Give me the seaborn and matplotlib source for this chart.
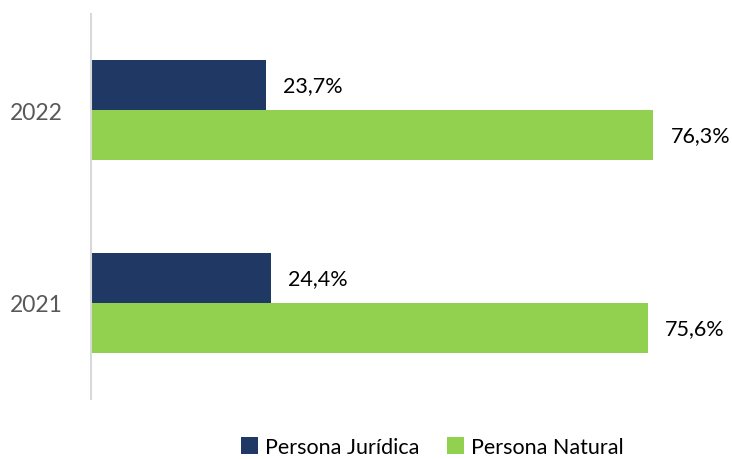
import matplotlib
matplotlib.use("Agg")
import matplotlib.pyplot as plt
import seaborn as sns
import pandas as pd

years = ["2022", "2021"]
juridica = [23.7, 24.4]
natural = [76.3, 75.6]
series_names = ["Persona Jurídica", "Persona Natural"]
colors = ["#203864", "#92D050"]

df = pd.DataFrame({
    "year": years * 2,
    "value": juridica + natural,
    "tipo": [series_names[0]] * len(years) + [series_names[1]] * len(years),
})

sns.set_theme(style="white")
plt.rcParams["font.family"] = ["Lato", "DejaVu Sans"]

fig = plt.figure(figsize=(7.32, 4.60), dpi=100)
ax = fig.add_axes([91 / 732, 1 - 400 / 460, 641 / 732, 385 / 460])

sns.barplot(data=df, y="year", x="value", hue="tipo", order=years,
            hue_order=series_names, palette=colors, orient="h",
            width=0.52, saturation=1, linewidth=0, ax=ax)

for cont in ax.containers:
    labels = [f"{b.get_width():.1f}%".replace(".", ",") for b in cont]
    ax.bar_label(cont, labels=labels, padding=12.5, fontsize=15.5, color="#000000")

ax.set_xlim(0, 87)
ax.set_ylim(1.5, -0.5)
ax.set_xlabel("")
ax.set_ylabel("")
ax.set_xticks([])
ax.tick_params(axis="y", length=0, labelsize=16.5, labelcolor="#595959", pad=20)
for s in ["top", "right", "bottom"]:
    ax.spines[s].set_visible(False)
ax.spines["left"].set_color("#D9D9D9")
ax.spines["left"].set_linewidth(1.5)

sns.move_legend(ax, "center", bbox_to_anchor=(0.532, -0.125), ncol=2,
                frameon=False, title=None, fontsize=15.5,
                handlelength=0.8, handleheight=0.8, handletextpad=0.3,
                columnspacing=1.3)
for t in ax.get_legend().get_texts():
    t.set_color("#000000")

fig.savefig("out.png", dpi=100)
